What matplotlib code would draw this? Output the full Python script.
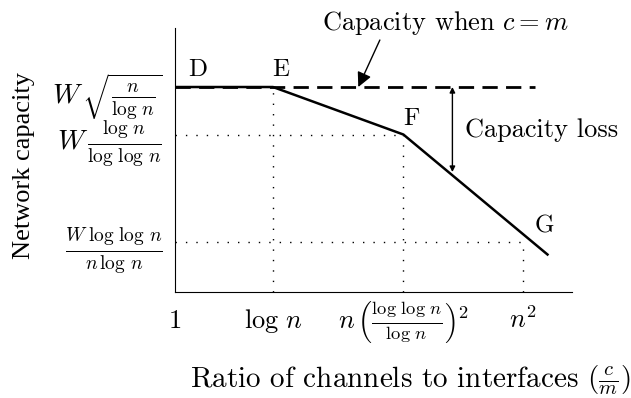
import matplotlib
matplotlib.use('Agg')
from matplotlib import pyplot as plt

plt.rcParams['font.family'] = 'serif'
plt.rcParams['font.serif'] = ['cmr10']
plt.rcParams['mathtext.fontset'] = 'cm'
plt.rcParams['axes.unicode_minus'] = False

# capacity curve D-E-F-G (abstract units)
curve_x = [0.0, 1.0, 2.33, 3.8]
curve_y = [4.1, 4.1, 3.15, 0.75]
point_names = ['D', 'E', 'F', 'G']
name_x = [0.13, 0.99, 2.33, 3.67]
name_y = [4.32, 4.32, 3.34, 1.2]

# reference levels
cap_top = 4.1
dash_end = 3.67
x_ticks = [0.0, 1.0, 2.33, 3.55]
x_labels = ['$1$', r'$\log\,n$',
            r'$n\,\left(\frac{\log\,\log\,n}{\log\,n}\right)^2$', '$n^2$']
y_ticks = [4.1, 3.15, 1.0]
y_labels = [r'$W\,\sqrt{\frac{n}{\log\,n}}\;\;\;$',
            r'$W\,\frac{\log\,n}{\log\,\log\,n}$',
            r'$\frac{W\;\log\,\log\,n}{n\,\log\,n}$']

fig = plt.figure(figsize=(6.31, 3.98), dpi=100)
ax = fig.add_axes([0.2773, 0.2663, 0.6292, 0.6633])

# dotted guides
dots = (0, (1, 6.5))
for xv, yv in [(x_ticks[1], y_ticks[0]), (x_ticks[2], y_ticks[1]), (x_ticks[3], y_ticks[2])]:
    ax.plot([xv, xv], [0, yv], color='black', lw=1, ls=dots)
for xv, yv in [(x_ticks[2], y_ticks[1]), (x_ticks[3], y_ticks[2])]:
    ax.plot([0, xv], [yv, yv], color='black', lw=1, ls=dots)

ax.plot([0, dash_end], [cap_top, cap_top], color='black', lw=2, ls=(0, (5.5, 3)))
ax.plot(curve_x, curve_y, color='black', lw=1.8)

for name, xv, yv in zip(point_names, name_x, name_y):
    ax.text(xv, yv, name, fontsize=18, ha='left', va='baseline')

ax.text(2.76, 5.24, 'Capacity when $c = m$', fontsize=19, ha='center',
        va='baseline')
ax.annotate('', xy=(1.87, cap_top), xytext=(2.09, 5.04),
            arrowprops=dict(arrowstyle='-|>', color='black', lw=1,
                            mutation_scale=22, shrinkA=0, shrinkB=0))
ax.annotate('', xy=(2.83, cap_top), xytext=(2.83, 2.4),
            arrowprops=dict(arrowstyle='<|-|>', color='black', lw=1,
                            mutation_scale=8, shrinkA=0, shrinkB=0))
ax.text(2.96, 3.1, 'Capacity loss', fontsize=19, ha='left', va='baseline')

ax.set_xlim(0, 4.05)
ax.set_ylim(0, 5.28)
ax.spines['top'].set_visible(False)
ax.spines['right'].set_visible(False)
ax.set_xticks(x_ticks, x_labels, fontsize=19)
ax.set_yticks(y_ticks, y_labels, fontsize=20)
ax.tick_params(axis='x', length=0, pad=26)
ax.tick_params(axis='y', length=0, pad=9)
for lab in ax.get_xticklabels():
    lab.set_va('baseline')

fig.text(0.038, 0.583, 'Network capacity', rotation=90, fontsize=19,
         family='Liberation Serif', ha='center', va='center')
fig.text(0.65, 0.025, r'Ratio of channels to interfaces ($\frac{c}{m}$)',
         fontsize=21, ha='center', va='baseline')

fig.savefig('out.png', dpi=100)
